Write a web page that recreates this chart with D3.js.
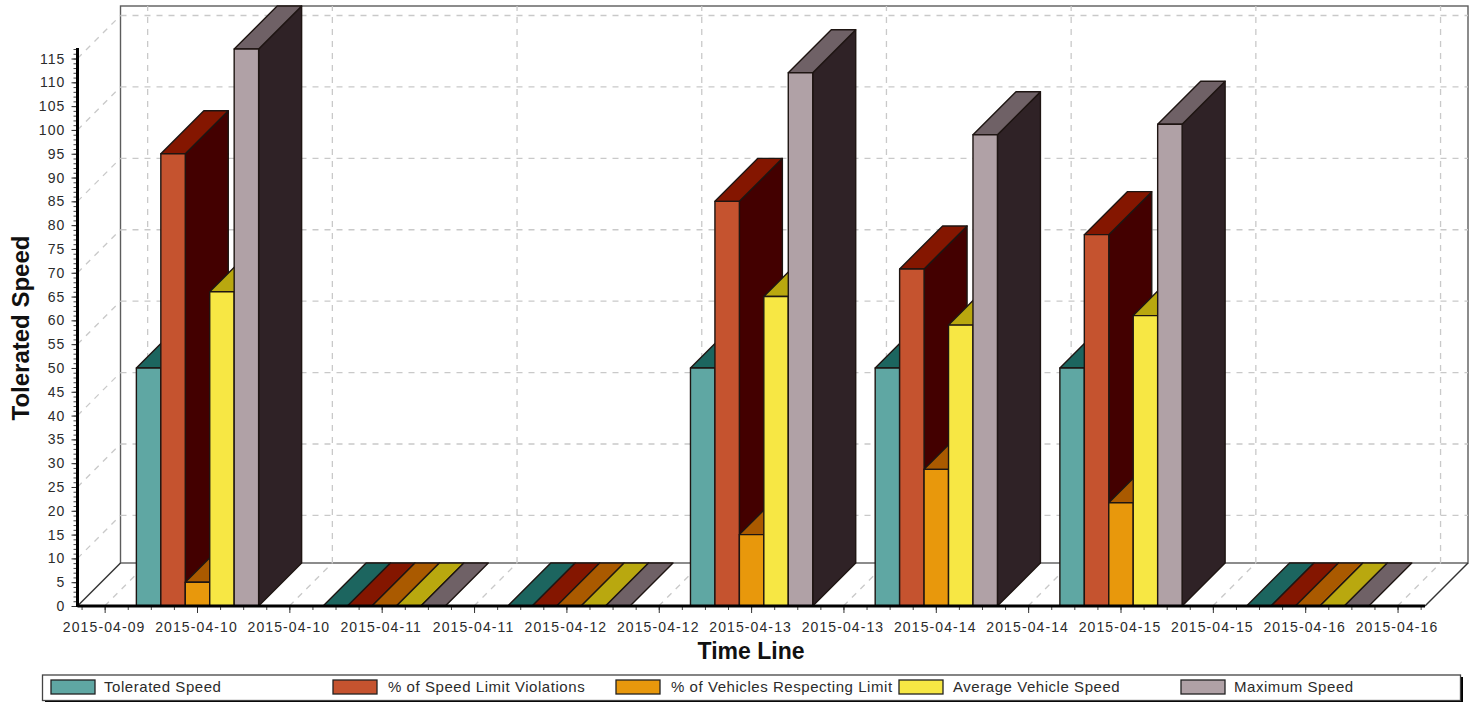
<!DOCTYPE html>
<html>
<head>
<meta charset="utf-8">
<script src="https://cdn.jsdelivr.net/npm/d3@7/dist/d3.min.js"></script>
<style>
html,body{margin:0;padding:0;background:#fff;overflow:hidden}
text{font-family:"Liberation Sans",Arial,sans-serif}
</style>
</head>
<body>
<svg id="chart" width="1477" height="702" style="display:block"></svg>
<script>
// Daily speed figures, one value per day for each series
const days = ["2015-04-10","2015-04-11","2015-04-12","2015-04-13","2015-04-14","2015-04-15","2015-04-16"];
const toleratedSpeed = [50, 0, 0, 50, 50, 50, 0];
const speedViolations = [95, 0, 0, 85, 70.8, 78, 0];
const vehiclesRespecting = [5, 0, 0, 15, 28.7, 21.7, 0];
const averageSpeed = [66, 0, 0, 65, 59, 61, 0];
const maximumSpeed = [117, 0, 0, 112, 99, 101.2, 0];

const seriesNames = ["Tolerated Speed","% of Speed Limit Violations","% of Vehicles Respecting Limit","Average Vehicle Speed","Maximum Speed"];
const seriesValues = [toleratedSpeed, speedViolations, vehiclesRespecting, averageSpeed, maximumSpeed];
const frontColors = ["#5fa7a3","#c5532f","#e8980c","#f7e744","#b0a1a6"];
const topColors = ["#1c655f","#841600","#aa5a00","#b9a80f","#6f6166"];
const sideColors = ["#0c3a36","#430000","#612f00","#6b5e00","#2f2226"];
const legendSwatchX = [51, 333, 616, 899, 1181];
const legendTextX = [104, 388, 671, 953, 1234];

const svg = d3.select("#chart");
const DEPTH = 43;
const plotLeft = 77.5, plotRight = 1425, plotBottom = 606, plotTop = 49;
const parseDay = d3.utcParse("%Y-%m-%d");

// 04-10 00:00 sits at x=197 and a day spans 184.7px
const msPerPx = 86400000 / 184.7;
const anchor = parseDay(days[0]);
const xScale = d3.scaleUtc()
  .domain([new Date(+anchor - (197 - plotLeft) * msPerPx), new Date(+anchor + (plotRight - 197) * msPerPx)])
  .range([plotLeft, plotRight]);
const yScale = d3.scaleLinear().domain([0, 117]).range([plotBottom, plotTop]);

const barWidth = 24.45;

// Back wall and floor outline
const wallL = plotLeft + DEPTH, wallR = plotRight + DEPTH, wallB = plotBottom - DEPTH, wallT = plotTop - DEPTH;
const frame = svg.append("g").attr("fill", "none").attr("stroke", "#5c5c5c").attr("stroke-width", 1.4);
frame.append("rect").attr("x", wallL).attr("y", wallT).attr("width", wallR - wallL).attr("height", wallB - wallT);
frame.append("line").attr("x1", wallL).attr("y1", wallB).attr("x2", plotLeft).attr("y2", plotBottom).attr("stroke", "#333");
frame.append("line").attr("x1", wallR).attr("y1", wallB).attr("x2", plotRight).attr("y2", plotBottom).attr("stroke", "#333");

// Dashed grid: back wall, left side wall and floor
const grid = svg.append("g").attr("fill", "none").attr("stroke", "#c9c9c9").attr("stroke-width", 1.3).attr("stroke-dasharray", "6 6");
const gridValues = d3.range(10, 116, 15);
gridValues.forEach(v => {
  const y = yScale(v);
  grid.append("line").attr("x1", plotLeft).attr("y1", y).attr("x2", wallL).attr("y2", y - DEPTH);
  grid.append("line").attr("x1", wallL).attr("y1", y - DEPTH).attr("x2", wallR).attr("y2", y - DEPTH);
});
const gridTimes = d3.range(0, 8).map(i => d3.utcHour.offset(anchor, i * 24 - 12));
gridTimes.forEach(t => {
  const x = xScale(t);
  grid.append("line").attr("x1", x).attr("y1", plotBottom).attr("x2", x + DEPTH).attr("y2", wallB);
  grid.append("line").attr("x1", x + DEPTH).attr("y1", wallB).attr("x2", x + DEPTH).attr("y2", wallT);
});

// Bars, painted left to right so each front face covers its neighbour's side
const bars = svg.append("g").attr("stroke", "#1e1512").attr("stroke-width", 1.4).attr("stroke-linejoin", "round");
days.forEach((day, d) => {
  const centre = xScale(parseDay(day));
  seriesValues.forEach((vals, s) => {
    const v = vals[d];
    const shift = v === 0 ? 2.5 : 0.5;
    const x0 = centre + shift + (s - 2.5) * barWidth;
    const x1 = x0 + barWidth;
    const y0 = yScale(v), yB = yScale(0);
    const poly = pts => pts.map(p => p.join(",")).join(" ");
    if (v > 0) {
      bars.append("polygon").attr("fill", sideColors[s])
        .attr("points", poly([[x1, yB], [x1 + DEPTH, yB - DEPTH], [x1 + DEPTH, y0 - DEPTH], [x1, y0]]));
    }
    bars.append("polygon").attr("fill", topColors[s])
      .attr("points", poly([[x0, y0], [x0 + DEPTH, y0 - DEPTH], [x1 + DEPTH, y0 - DEPTH], [x1, y0]]));
    if (v > 0) {
      bars.append("rect").attr("fill", frontColors[s])
        .attr("x", x0).attr("y", y0).attr("width", barWidth).attr("height", yB - y0);
    }
  });
});

const styleTickText = g => g.selectAll("text")
  .attr("font-size", 14).attr("letter-spacing", 1.1).attr("fill", "#2b2b2b")
  .attr("font-family", '"Liberation Sans",Arial,sans-serif');

// Vertical axis with unit minor ticks
const yMinor = d3.axisLeft(yScale).tickValues(d3.range(0, 118)).tickSize(4).tickFormat("");
const yMajor = d3.axisLeft(yScale).tickValues(d3.range(0, 116, 5)).tickSize(6).tickPadding(6);
const gy = svg.append("g").attr("transform", `translate(${plotLeft},0)`);
gy.append("g").call(yMinor).call(g => g.select(".domain").remove()).selectAll("line").attr("stroke", "#444");
gy.append("g").call(yMajor).call(g => g.select(".domain").remove())
  .call(g => g.selectAll("line").attr("stroke", "#333"))
  .call(styleTickText);
gy.append("line").attr("x1", 0).attr("x2", 0).attr("y1", plotTop - 1).attr("y2", plotBottom + 1)
  .attr("stroke", "#000").attr("stroke-width", 3);

// Time axis: labels every 12 hours, minor ticks every 3 hours
const xFormat = d3.utcFormat("%Y-%m-%d");
const xMajorTicks = d3.utcHour.range(d3.utcHour.offset(anchor, -12), d3.utcHour.offset(anchor, 24 * 6 + 13), 12);
const xMinorTicks = d3.utcHour.range(d3.utcHour.offset(anchor, -15), d3.utcHour.offset(anchor, 24 * 6 + 16), 3);
const gx = svg.append("g").attr("transform", `translate(0,${plotBottom})`);
gx.append("g").call(d3.axisBottom(xScale).tickValues(xMinorTicks).tickSize(4).tickFormat(""))
  .call(g => g.select(".domain").remove()).selectAll("line").attr("stroke", "#444");
gx.append("g").call(d3.axisBottom(xScale).tickValues(xMajorTicks).tickSize(7).tickPadding(9).tickFormat(xFormat))
  .call(g => g.select(".domain").remove())
  .call(g => g.selectAll("line").attr("stroke", "#333"))
  .call(g => g.selectAll("text").attr("dx", -1))
  .call(styleTickText);
gx.append("line").attr("x1", plotLeft).attr("x2", plotRight).attr("y1", 0).attr("y2", 0)
  .attr("stroke", "#000").attr("stroke-width", 3);

// Axis titles
svg.append("text").attr("x", 751).attr("y", 659).attr("text-anchor", "middle")
  .attr("font-size", 23).attr("font-weight", "bold").attr("fill", "#111").text("Time Line");
svg.append("text").attr("transform", "translate(29,328) rotate(-90)").attr("text-anchor", "middle")
  .attr("font-size", 24).attr("font-weight", "bold").attr("fill", "#111").text("Tolerated Speed");

// Legend box with its drop shadow
const legend = svg.append("g");
legend.append("rect").attr("x", 45).attr("y", 677).attr("width", 1418).attr("height", 25).attr("fill", "#000");
legend.append("rect").attr("x", 42.5).attr("y", 675).attr("width", 1418).attr("height", 25.5)
  .attr("fill", "#fff").attr("stroke", "#444").attr("stroke-width", 1.3);
seriesNames.forEach((name, i) => {
  legend.append("rect").attr("x", legendSwatchX[i]).attr("y", 680).attr("width", 44).attr("height", 14)
    .attr("fill", frontColors[i]).attr("stroke", "#222").attr("stroke-width", 1.3);
  legend.append("text").attr("x", legendTextX[i]).attr("y", 691.5)
    .attr("font-size", 15).attr("letter-spacing", 0.55).attr("fill", "#2b2b2b").text(name);
});
</script>
</body>
</html>
